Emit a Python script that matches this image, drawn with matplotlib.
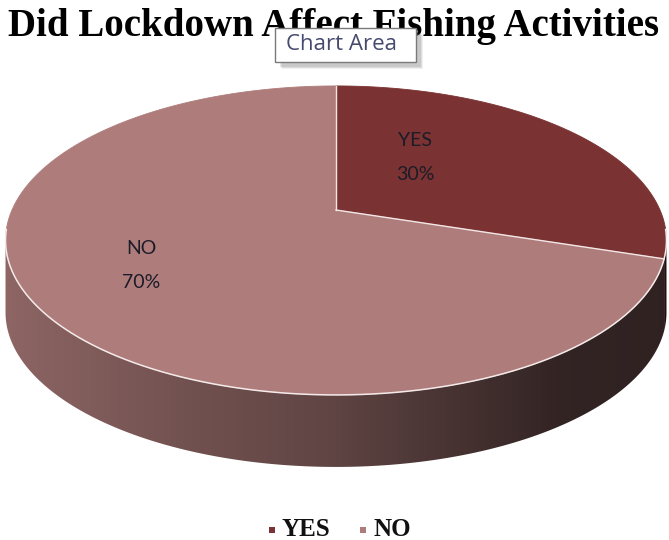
import numpy as np
import matplotlib
matplotlib.use("Agg")
import matplotlib.pyplot as plt
from matplotlib.patches import Polygon, Rectangle

categories = ["YES", "NO"]
shares = [30, 70]
top_colors = ["#7b3232", "#ae7d7b"]
title = "Did Lockdown Affect Fishing Activities"

W, H = 669, 540
fig = plt.figure(figsize=(W / 100, H / 100), dpi=100)
ax = fig.add_axes([0, 0, 1, 1])
ax.set_xlim(0, W)
ax.set_ylim(H, 0)
ax.axis("off")

# tilted disc with a little perspective: far edge squeezed, near edge stretched
CX, CY = 336, 210
R, K, P = 324, 148.5, 0.197
DEPTH = 72


def proj(t_deg, r=1.0, dz=0.0):
    t = np.radians(t_deg)
    u, v = r * np.cos(t), r * np.sin(t)
    s = 1.0 / (1.0 + P * v)
    return np.column_stack([CX + R * u * s, CY - K * v * s + dz])


# front part of the rim that faces the viewer
edge = np.degrees(np.arcsin(P))
vis0, vis1 = 180 + edge, 360 - edge

# horizontal shading of the rim
sx = np.array([0, 40, 200, 330, 460, 560, 669])
sv = np.array([0.82, 0.78, 0.64, 0.55, 0.40, 0.29, 0.27])
shade = np.interp(np.arange(W) + 0.5, sx, sv)

total = sum(shares)
start = 90.0
spans = []
for v in shares:
    end = start - 360.0 * v / total
    spans.append((end, start))
    start = end

# rim pieces
for (lo, hi), col in zip(spans, top_colors):
    rgb = np.array(matplotlib.colors.to_rgb(col))
    for k in (-360, 0, 360):
        a, b = max(lo + k, vis0), min(hi + k, vis1)
        if a >= b:
            continue
        ts = np.linspace(a, b, 200)
        upper = proj(ts)
        lower = proj(ts[::-1], dz=DEPTH)
        poly = Polygon(np.vstack([upper, lower]), closed=True,
                       facecolor="none", edgecolor="none")
        ax.add_patch(poly)
        img = np.clip(shade[None, :, None] * rgb[None, None, :], 0, 1)
        img = np.repeat(img, H, axis=0)
        im = ax.imshow(img, extent=(0, W, H, 0), interpolation="bilinear",
                       zorder=1)
        im.set_clip_path(poly)

# top face
for (lo, hi), col in zip(spans, top_colors):
    ts = np.linspace(hi, lo, 300)
    pts = np.vstack([[CX, CY], proj(ts)])
    ax.add_patch(Polygon(pts, closed=True, facecolor=col, edgecolor=col,
                         lw=0.6, zorder=2))

# slice borders and the lit front edge
for lo, hi in spans:
    p = proj([hi])[0]
    ax.plot([CX, p[0]], [CY, p[1]], color="#f3e6e6", lw=1.0, zorder=3)
front = proj(np.linspace(vis0 - 4, vis1 + 4, 300))
ax.plot(front[:, 0], front[:, 1], color="#f4eaea", lw=1.1, zorder=3)

# data labels
label_pos = [(415, 141), (141, 248)]
for name, v, (lx, ly) in zip(categories, shares, label_pos):
    ax.text(lx, ly, name, ha="center", va="center", fontsize=14,
            family="Lato", color="#1c1c28", zorder=4)
    ax.text(lx, ly + 34, f"{v}%", ha="center", va="center", fontsize=14,
            family="Lato", color="#1c1c28", zorder=4)

# title
ax.text(W / 2 - 1, 36, title, ha="center", va="baseline", fontsize=28,
        family="Liberation Serif", weight="bold", color="black", zorder=4)

# hover tip over the title
for i, a in enumerate([0.10, 0.14, 0.18]):
    d = 3 - i
    ax.add_patch(Rectangle((277 + d + 2, 30 + d + 2), 141, 34,
                           facecolor="#707070", edgecolor="none", alpha=a,
                           zorder=5))
ax.add_patch(Rectangle((275, 28), 141, 34, facecolor="white",
                       edgecolor="#7a7a7a", lw=1.0, zorder=6))
ax.text(342, 45, "Chart Area", ha="center", va="center", fontsize=16,
        family="Open Sans", color="#464a6e", zorder=7)

# legend
leg_x = [272, 363]
for name, col, x in zip(categories, top_colors, leg_x):
    ax.add_patch(Rectangle((x - 3, 527), 6, 6, facecolor=col,
                           edgecolor="none", zorder=4))
    ax.text(x + 10, 536, name, ha="left", va="baseline", fontsize=18,
            family="Liberation Serif", weight="bold", color="#111111",
            zorder=4)

fig.savefig("out.png", dpi=100)
